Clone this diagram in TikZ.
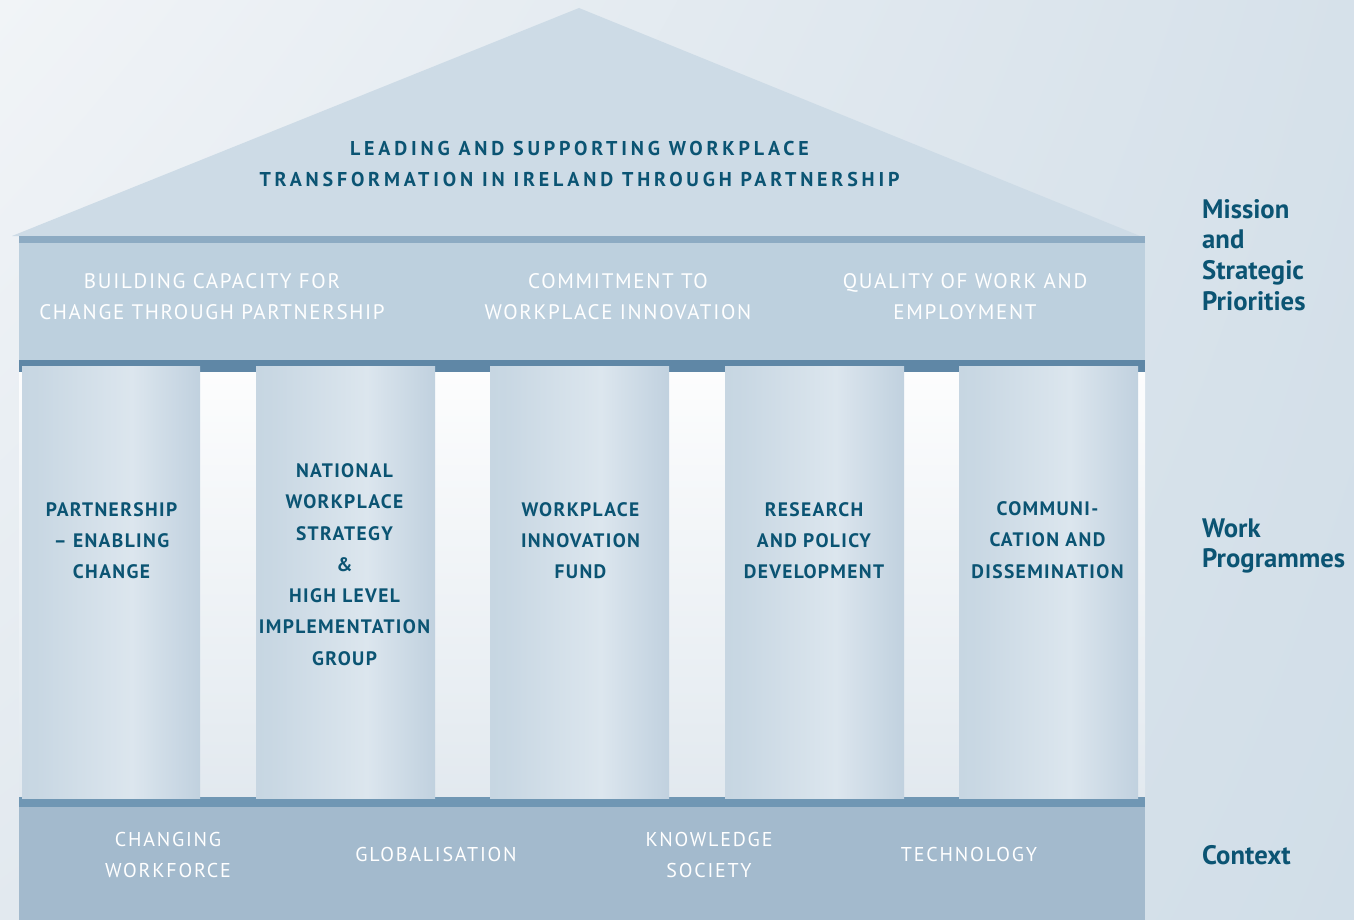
\documentclass[tikz,border=0pt]{standalone}
\usepackage{fontspec}
\usetikzlibrary{shadings}
\setmainfont{PT Sans}
\newfontfamily\titlefont[LetterSpace=19]{PT Sans}
\newfontfamily\beamfont[LetterSpace=8]{PT Sans}
\newfontfamily\pillarfont[LetterSpace=7]{PT Sans}
\newfontfamily\basefont[LetterSpace=9]{PT Sans}
\definecolor{teal}{HTML}{0B5473}
\definecolor{bgA}{HTML}{F1F4F7}
\definecolor{bgB}{HTML}{D6E1EA}
\definecolor{bgC}{HTML}{E2E9EF}
\definecolor{bgD}{HTML}{D1DEE8}
\definecolor{roof}{HTML}{CDDBE6}
\definecolor{roofline}{HTML}{8DABC3}
\definecolor{beam}{HTML}{BDD0DE}
\definecolor{darkband}{HTML}{5F87A6}
\definecolor{lowband}{HTML}{7097B4}
\definecolor{basecol}{HTML}{A3BACD}
\definecolor{pc1}{HTML}{BCCEDC}
\definecolor{pc2}{HTML}{DCE6EE}
\definecolor{pc3}{HTML}{D3DFE9}
\definecolor{pc4}{HTML}{9DB6CB}
\pgfdeclarehorizontalshading{pillarshade}{100bp}{color(0bp)=(pc1); color(30bp)=(pc1!60!pc2); color(56bp)=(pc2); color(62bp)=(pc3); color(100bp)=(pc4)}
\tikzset{
  pillarbox/.style={shading=pillarshade, draw=none},
  darktext/.style={text=teal, align=center, anchor=center, inner sep=0pt},
  whitetext/.style={text=white, align=center, anchor=center, inner sep=0pt},
  titletext/.style={darktext, font=\titlefont\bfseries\fontsize{20}{31}\selectfont},
  beamtext/.style={whitetext, font=\beamfont\fontsize{21}{31}\selectfont},
  pillartext/.style={darktext, font=\pillarfont\bfseries\fontsize{19.5}{31.3}\selectfont},
  basetext/.style={whitetext, font=\basefont\fontsize{20}{31}\selectfont},
  sidetext/.style={text=teal, align=left, anchor=west, inner sep=0pt, font=\bfseries\fontsize{26.7}{30.8}\selectfont},
}
\begin{document}
\begin{tikzpicture}[x=1pt, y=-1pt]
\useasboundingbox (0,0) rectangle (1354,920);
% background
\shade[upper left=bgA, upper right=bgB, lower left=bgC, lower right=bgD] (0,0) rectangle (1354,920);
% area behind pillars
\shade[top color=white!80!bgA, bottom color=bgC] (19,372) rectangle (1145,798);
% pediment
\fill[roof] (12,236) -- (579,8) -- (1145,238) -- cycle;
\node[coordinate] (apex) at (579,8) {};
\fill[roofline] (19,236) rectangle (1145,243);
% entablature
\fill[beam] (19,243) rectangle (1145,360);
\fill[darkband] (19,360) rectangle (1145,372);
% base
\fill[lowband] (19,797) rectangle (1145,807);
\fill[basecol] (19,807) rectangle (1145,920);
% pillars
\path[pillarbox] (22,366) rectangle (200,798);
\path[pillarbox] (256,366) rectangle (435,798);
\path[pillarbox] (490,366) rectangle (669,798);
\path[pillarbox] (725,366) rectangle (904,798);
\path[pillarbox] (959,366) rectangle (1138,798);
% title
\node[titletext] (title) at (579.5,163.5) {LEADING AND SUPPORTING WORKPLACE\\TRANSFORMATION IN IRELAND THROUGH PARTNERSHIP};
% beam texts
\node[beamtext] (b1) at (212,296.5) {BUILDING CAPACITY FOR\\CHANGE THROUGH PARTNERSHIP};
\node[beamtext] (b2) at (618,296.5) {COMMITMENT TO\\WORKPLACE INNOVATION};
\node[beamtext] (b3) at (965,296.5) {QUALITY OF WORK AND\\EMPLOYMENT};
% pillar texts
\node[pillartext] (t1) at (111.5,540.5) {PARTNERSHIP\\– ENABLING\\CHANGE};
\node[pillartext] (t2) at (344.5,564.5) {NATIONAL\\WORKPLACE\\STRATEGY\\\&\\HIGH LEVEL\\IMPLEMENTATION\\GROUP};
\node[pillartext] (t3) at (580.5,540.5) {WORKPLACE\\INNOVATION\\FUND};
\node[pillartext] (t4) at (814,540.5) {RESEARCH\\AND POLICY\\DEVELOPMENT};
\node[pillartext] (t5) at (1047.5,540) {COMMUNI-\\CATION AND\\DISSEMINATION};
% base texts
\node[basetext] (c1) at (168,854.5) {CHANGING\\WORKFORCE};
\node[basetext] (c2) at (436,854) {GLOBALISATION};
\node[basetext] (c3) at (709,854.5) {KNOWLEDGE\\SOCIETY};
\node[basetext] (c4) at (969,854) {TECHNOLOGY};
% side labels
\node[sidetext] (s1) at (1202,255) {Mission\\and\\Strategic\\Priorities};
\node[sidetext] (s2) at (1202,546) {Work\\Programmes};
\node[sidetext] (s3) at (1202,855) {Context};
\end{tikzpicture}
\end{document}
